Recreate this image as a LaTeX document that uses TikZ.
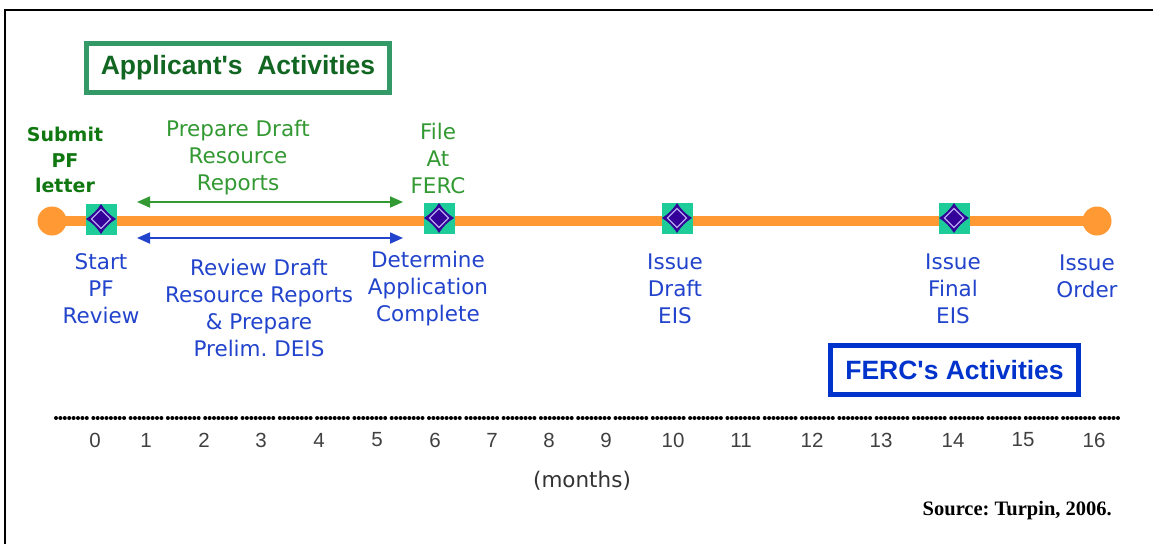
\documentclass[tikz,border=0pt]{standalone}
\usepackage{fontspec}
\setmainfont{DejaVu Sans}
\newfontfamily\arialf{Liberation Sans}
\newfontfamily\timesf{Liberation Serif}
\usetikzlibrary{arrows.meta}
\frenchspacing
\definecolor{orng}{HTML}{FF9933}
\definecolor{tealc}{HTML}{1ECC9A}
\definecolor{indig}{HTML}{330099}
\definecolor{lav}{HTML}{B8A8F0}
\definecolor{gtext}{HTML}{339933}
\definecolor{gdark}{HTML}{117711}
\definecolor{gbox}{HTML}{339966}
\definecolor{gboxtext}{HTML}{116622}
\definecolor{btext}{HTML}{2244CC}
\definecolor{bbox}{HTML}{0033CC}
\tikzset{
  comic/.style={align=center, inner sep=0pt, font=\fontsize{21.5}{27}\selectfont},
  gl/.style={comic, text=gtext},
  bl/.style={comic, text=btext},
  icon/.style={fill=tealc, draw=none, minimum size=31pt, inner sep=0pt,
    path picture={
      \coordinate (pc) at (path picture bounding box.center);
      \fill[indig] ([shift={(0,-15)}]pc) to[bend right=12] ([shift={(15,0)}]pc)
        to[bend right=12] ([shift={(0,15)}]pc) to[bend right=12] ([shift={(-15,0)}]pc)
        to[bend right=12] cycle;
      \draw[lav, line width=1.1pt] ([shift={(0,-9.5)}]pc) -- ([shift={(9.5,0)}]pc)
        -- ([shift={(0,9.5)}]pc) -- ([shift={(-9.5,0)}]pc) -- cycle;
    }},
  endpt/.style={circle, fill=orng, minimum size=29pt, inner sep=0pt},
  actbox/.style={line width=5pt, inner sep=0pt, font=\arialf\bfseries\fontsize{26.5}{30}\selectfont},
  span/.style={line width=1.8pt, {Triangle[length=13pt,width=11pt]}-{Triangle[length=13pt,width=11pt]}},
  num/.style={font=\arialf\fontsize{20.5}{22}\selectfont, inner sep=0pt, text=black!75},
}
\begin{document}
\begin{tikzpicture}[x=1pt,y=-1pt]
\useasboundingbox (0,0) rectangle (1153,544);
\fill[white] (0,0) rectangle (1153,544);
% frame
\draw[line width=2.5pt] (1153,10) -- (5,10) -- (5,544);

% activity boxes
\node[actbox, draw=gbox, text=gboxtext, minimum width=303pt, minimum height=49pt] (appbox) at (238,68) {Applicant's\ \ Activities};
\node[actbox, draw=bbox, text=bbox, minimum width=248pt, minimum height=49pt] (fercbox) at (954.5,370) {FERC's Activities};

% timeline
\node[endpt] (e0) at (52,221) {};
\node[endpt] (e16) at (1097,221) {};
\draw[orng, line width=10pt] (e0.center) -- (e16.center);
\node[icon] (m0) at (101,219) {};
\node[icon] (m6) at (439,218) {};
\node[icon] (m10) at (677,218) {};
\node[icon] (m14) at (954,218) {};

% green labels
\node[comic, text=gdark, font=\bfseries\fontsize{19}{25.5}\selectfont] (submit) at (65,160) {Submit\\PF\\letter};
\node[gl] (prep) at (238,158) {Prepare Draft\\Resource\\Reports};
\node[gl] (file) at (438,158) {File\\At\\FERC};

% span arrows
\coordinate (ga) at (137,202);
\coordinate (gb) at (403,202);
\draw[span, gtext] (ga) -- (gb);
\coordinate (ba) at (137,238);
\coordinate (bb) at (403,238);
\draw[span, btext] (ba) -- (bb);

% blue labels
\node[bl] (start) at (101,289) {Start\\PF\\Review};
\node[bl] (review) at (259,308) {Review Draft\\Resource Reports\\\&\ Prepare\\Prelim. DEIS};
\node[bl] (determ) at (428,289) {Determine\\Application\\Complete};
\node[bl] (idraft) at (675,289) {Issue\\Draft\\EIS};
\node[bl] (ifinal) at (953,289) {Issue\\Final\\EIS};
\node[bl] (iorder) at (1087,276) {Issue\\Order};

% month axis
\coordinate (ax0) at (56,418);
\coordinate (ax1) at (1120,418);
\draw[line width=4pt, line cap=round, dash pattern=on 0pt off 4.4pt on 0pt off 4.4pt on 0pt off 4.4pt on 0pt off 4.4pt on 0pt off 4.4pt on 0pt off 4.4pt on 0pt off 4.4pt on 0pt off 6.5pt] (ax0) -- (ax1);
\foreach \n/\x in {0/95,1/146,2/204,3/261,4/319,5/377,6/435,7/492,8/549,9/606,10/673,11/741,12/812,13/881,14/953,15/1023,16/1094}
  \node[num] (n\n) at (\x,440) {\n};
\node[comic, text=black!80] (months) at (582,481) {(months)};
\node[font=\timesf\bfseries\fontsize{20.5}{24}\selectfont, anchor=east, inner sep=0pt] (src) at (1112,511) {Source: Turpin, 2006.};
\end{tikzpicture}
\end{document}
